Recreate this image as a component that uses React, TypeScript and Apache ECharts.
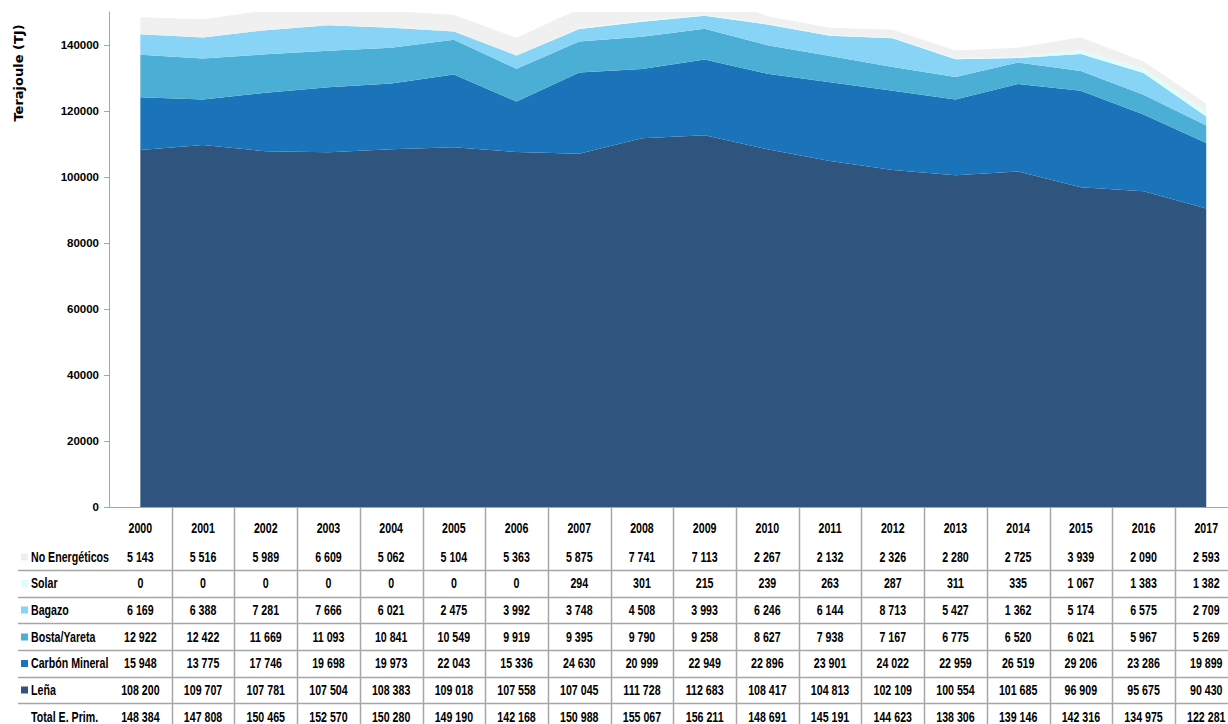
import React, { useEffect, useRef } from "react";
import * as echarts from "echarts";

// Energy supply by source, 2000-2017 (TJ)
const years = [
  "2000", "2001", "2002", "2003", "2004", "2005", "2006", "2007", "2008",
  "2009", "2010", "2011", "2012", "2013", "2014", "2015", "2016", "2017",
];

const noEnergeticos = [5143, 5516, 5989, 6609, 5062, 5104, 5363, 5875, 7741, 7113, 2267, 2132, 2326, 2280, 2725, 3939, 2090, 2593];
const solar = [0, 0, 0, 0, 0, 0, 0, 294, 301, 215, 239, 263, 287, 311, 335, 1067, 1383, 1382];
const bagazo = [6169, 6388, 7281, 7666, 6021, 2475, 3992, 3748, 4508, 3993, 6246, 6144, 8713, 5427, 1362, 5174, 6575, 2709];
const bostaYareta = [12922, 12422, 11669, 11093, 10841, 10549, 9919, 9395, 9790, 9258, 8627, 7938, 7167, 6775, 6520, 6021, 5967, 5269];
const carbonMineral = [15948, 13775, 17746, 19698, 19973, 22043, 15336, 24630, 20999, 22949, 22896, 23901, 24022, 22959, 26519, 29206, 23286, 19899];
const lena = [108200, 109707, 107781, 107504, 108383, 109018, 107558, 107045, 111728, 112683, 108417, 104813, 102109, 100554, 101685, 96909, 95675, 90430];
const totalPrimaria = [148384, 147808, 150465, 152570, 150280, 149190, 142168, 150988, 155067, 156211, 148691, 145191, 144623, 138306, 139146, 142316, 134975, 122281];

const yTicks = [0, 20000, 40000, 60000, 80000, 100000, 120000, 140000];

// stacking order, bottom to top
const stackSeries = [
  { name: "Leña", data: lena, color: "#2F547E" },
  { name: "Carbón Mineral", data: carbonMineral, color: "#1B74BA" },
  { name: "Bosta/Yareta", data: bostaYareta, color: "#4BAED4" },
  { name: "Bagazo", data: bagazo, color: "#87D4F7" },
  { name: "Solar", data: solar, color: "#DDFFFB" },
  { name: "No Energéticos", data: noEnergeticos, color: "#F0F0F0" },
];

// table rows, top to bottom
const tableRows = [
  { name: "No Energéticos", data: noEnergeticos, color: "#EEEEEE" },
  { name: "Solar", data: solar, color: "#DDFFFB" },
  { name: "Bagazo", data: bagazo, color: "#87D4F7" },
  { name: "Bosta/Yareta", data: bostaYareta, color: "#4BAED4" },
  { name: "Carbón Mineral", data: carbonMineral, color: "#1B74BA" },
  { name: "Leña", data: lena, color: "#2F547E" },
  { name: "Total E. Prim.", data: totalPrimaria, color: null },
];

const SANS = "'Liberation Sans', Arial, sans-serif";
// table text is drawn horizontally condensed to get a narrow face
const TABLE_FONT_SIZE = 14;
const TABLE_SCALE_X = 0.76;

const fmt = (n: number) => String(n).replace(/\B(?=(\d{3})+(?!\d))/g, " ");

const CHART_W = 1240;
const VIEW_W = 1228;
const VIEW_H = 724;
const GRID_LEFT = 109;
const GRID_TOP = 12;
const GRID_BOTTOM_Y = 507;
const COL_W = 62.7;

export default function App() {
  const ref = useRef<HTMLDivElement>(null);

  useEffect(() => {
    if (!ref.current) return;
    const chart = echarts.init(ref.current, null, { renderer: "svg" });

    chart.setOption({
      animation: false,
      grid: {
        left: GRID_LEFT,
        top: GRID_TOP,
        width: COL_W * years.length,
        height: GRID_BOTTOM_Y - GRID_TOP,
      },
      xAxis: {
        type: "category",
        data: years,
        boundaryGap: true,
        axisLine: { show: true, lineStyle: { color: "#A6A6A6", width: 1 } },
        axisTick: { show: false },
        axisLabel: { show: false },
        splitLine: { show: false },
      },
      yAxis: {
        type: "value",
        min: 0,
        max: 150000,
        interval: 20000,
        axisLine: { show: true, lineStyle: { color: "#A6A6A6", width: 1 } },
        axisTick: {
          show: true,
          length: 5,
          lineStyle: { color: "#A6A6A6" },
          customValues: yTicks,
        },
        axisLabel: {
          customValues: yTicks,
          formatter: (v: number) => String(v),
          margin: 10,
          fontFamily: SANS,
          fontWeight: "bold",
          fontSize: 11.5,
          color: "#000",
        },
        splitLine: { show: false },
      },
      series: stackSeries.map((s) => ({
        name: s.name,
        type: "line",
        stack: "total",
        data: s.data,
        showSymbol: false,
        symbol: "none",
        clip: true,
        lineStyle: { width: 0 },
        areaStyle: { color: s.color, opacity: 1 },
        itemStyle: { color: s.color },
      })),
    });

    const colX = years.map((_, i) => chart.convertToPixel({ xAxisIndex: 0 }, i) as number);
    const step = colX.length > 1 ? colX[1] - colX[0] : COL_W;
    const headerY = 528;
    const rowY = [557, 583.5, 610, 637, 663.5, 690, 717];
    const lineY = [570, 597, 623, 650, 677, 703];
    const lineColor = "#A6A6A6";

    const tableText = (text: string, x: number, y: number, align: string) => ({
      type: "text",
      x,
      y,
      scaleX: TABLE_SCALE_X,
      style: {
        text,
        fontFamily: SANS,
        fontWeight: "bold",
        fontSize: TABLE_FONT_SIZE,
        fill: "#000",
        align,
        verticalAlign: "middle",
      },
    });

    const graphic: any[] = [];

    graphic.push({
      type: "text",
      x: 18,
      y: 73,
      rotation: Math.PI / 2,
      style: {
        text: "Terajoule (TJ)",
        fontFamily: "'DejaVu Sans', Verdana, sans-serif",
        fontWeight: "bold",
        fontSize: 13,
        fill: "#000",
        align: "center",
        verticalAlign: "middle",
      },
    });

    // column separators
    for (let i = 1; i <= years.length; i++) {
      const x = Math.round(colX[0] - step / 2 + i * step) + 0.5;
      graphic.push({
        type: "line",
        shape: { x1: x, y1: GRID_BOTTOM_Y, x2: x, y2: VIEW_H },
        style: { stroke: lineColor, lineWidth: 1.5 },
        silent: true,
      });
    }
    // row separators
    lineY.forEach((y) => {
      graphic.push({
        type: "line",
        shape: { x1: 18, y1: y + 0.5, x2: CHART_W, y2: y + 0.5 },
        style: { stroke: lineColor, lineWidth: 1.5 },
        silent: true,
      });
    });

    // header years
    years.forEach((yr, i) => {
      graphic.push(tableText(yr, colX[i], headerY, "center"));
    });

    // table body
    tableRows.forEach((row, r) => {
      const y = rowY[r];
      if (row.color) {
        graphic.push({
          type: "rect",
          shape: { x: 21, y: y - 3.5, width: 7, height: 7 },
          style: { fill: row.color },
        });
      }
      graphic.push(tableText(row.name, 31, y, "left"));
      row.data.forEach((v, i) => {
        graphic.push(tableText(fmt(v), colX[i], y, "center"));
      });
    });

    chart.setOption({ graphic });

    return () => chart.dispose();
  }, []);

  return (
    <div
      style={{
        position: "absolute",
        left: 0,
        top: 0,
        width: VIEW_W,
        height: VIEW_H,
        overflow: "hidden",
        background: "#fff",
      }}
    >
      <div ref={ref} style={{ width: CHART_W, height: VIEW_H }} />
    </div>
  );
}
